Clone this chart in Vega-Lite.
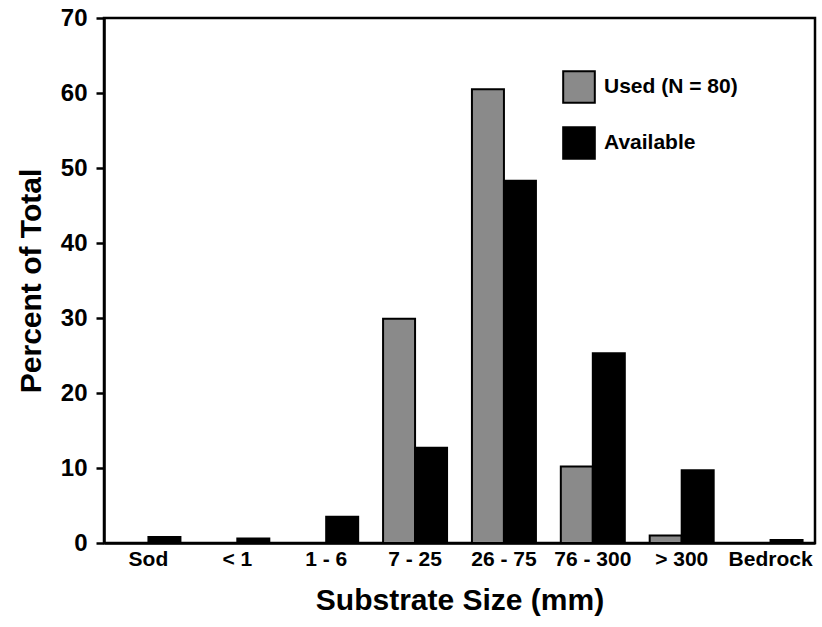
{
  "$schema": "https://vega.github.io/schema/vega-lite/v6.json",
  "autosize": "none",
  "width": 711,
  "height": 525,
  "padding": {"left": 104, "top": 18, "right": 7, "bottom": 84},
  "background": "white",
  "config": {
    "font": "Liberation Sans",
    "view": {"stroke": "black", "strokeWidth": 2.5},
    "axis": {"grid": false, "domainColor": "black", "domainWidth": 2.5, "labelColor": "black", "titleColor": "black", "labelFontWeight": "bold", "titleFontWeight": "bold"}
  },
  "data": {
    "values": [
      {"size": "Sod", "type": "Used (N = 80)", "percent": 0},
      {"size": "Sod", "type": "Available", "percent": 0.8},
      {"size": "< 1", "type": "Used (N = 80)", "percent": 0},
      {"size": "< 1", "type": "Available", "percent": 0.6},
      {"size": "1 - 6", "type": "Used (N = 80)", "percent": 0},
      {"size": "1 - 6", "type": "Available", "percent": 3.5},
      {"size": "7 - 25", "type": "Used (N = 80)", "percent": 29.9},
      {"size": "7 - 25", "type": "Available", "percent": 12.7},
      {"size": "26 - 75", "type": "Used (N = 80)", "percent": 60.5},
      {"size": "26 - 75", "type": "Available", "percent": 48.3},
      {"size": "76 - 300", "type": "Used (N = 80)", "percent": 10.2},
      {"size": "76 - 300", "type": "Available", "percent": 25.3},
      {"size": "> 300", "type": "Used (N = 80)", "percent": 1.0},
      {"size": "> 300", "type": "Available", "percent": 9.7},
      {"size": "Bedrock", "type": "Used (N = 80)", "percent": 0},
      {"size": "Bedrock", "type": "Available", "percent": 0.4}
    ]
  },
  "mark": {"type": "bar", "stroke": "black", "strokeWidth": 2},
  "encoding": {
    "x": {
      "field": "size", "type": "nominal",
      "sort": ["Sod", "< 1", "1 - 6", "7 - 25", "26 - 75", "76 - 300", "> 300", "Bedrock"],
      "scale": {"paddingInner": 0.28, "paddingOuter": 0.14},
      "axis": {"title": "Substrate Size (mm)", "labelAngle": 0, "ticks": false, "tickSize": 0, "labelPadding": 5, "labelFontSize": 21, "titleFontSize": 30, "titlePadding": 16}
    },
    "xOffset": {"field": "type", "type": "nominal", "sort": ["Used (N = 80)", "Available"], "scale": {"paddingInner": 0, "paddingOuter": 0}},
    "y": {
      "field": "percent", "type": "quantitative",
      "scale": {"domain": [0, 70], "nice": false},
      "axis": {"title": "Percent of Total", "values": [0, 10, 20, 30, 40, 50, 60, 70], "tickSize": 8, "tickWidth": 2.5, "tickColor": "black", "labelPadding": 9, "labelFontSize": 24, "titleFontSize": 30, "titlePadding": 14}
    },
    "color": {
      "field": "type", "type": "nominal",
      "scale": {"domain": ["Used (N = 80)", "Available"], "range": ["#8a8a8a", "#000000"]},
      "legend": {"title": null, "orient": "none", "legendX": 458, "legendY": 52, "symbolType": "square", "symbolSize": 1000, "symbolStrokeColor": "black", "symbolStrokeWidth": 2, "symbolOpacity": 1, "rowPadding": 16, "labelOffset": 8, "labelFontSize": 21, "labelFontWeight": "bold", "labelColor": "black"}
    }
  }
}
